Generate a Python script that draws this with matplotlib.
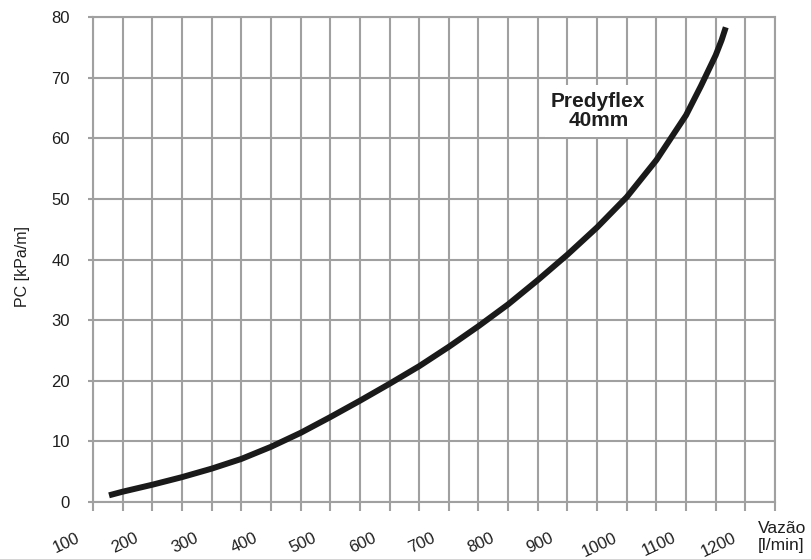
import matplotlib
matplotlib.use("Agg")
import matplotlib.pyplot as plt
from matplotlib.transforms import ScaledTranslation

plt.rcParams['font.family'] = ['Liberation Sans', 'DejaVu Sans']

# data
flow = [127, 150, 200, 250, 300, 350, 400, 450, 500, 550, 600, 650, 700,
        750, 800, 850, 900, 950, 1000, 1050, 1100, 1125, 1150, 1160, 1167]
pc = [1.1, 1.7, 2.85, 4.1, 5.5, 7.1, 9.1, 11.4, 14.0, 16.7, 19.5, 22.4, 25.6,
      29.0, 32.6, 36.6, 40.8, 45.3, 50.3, 56.4, 63.8, 68.6, 73.7, 76.2, 78.3]
x_ticks = list(range(100, 1251, 50))
x_labels = [str(v) if (v % 100 == 0 and v <= 1200) else '' for v in x_ticks]
y_ticks = list(range(0, 81, 10))
series_label = "Predyflex\n40mm"
label_pos = (952, 64.5)

grid_c = '#a0a0a0'
text_c = '#1e1e1e'

fig = plt.figure(figsize=(8.11, 5.59), dpi=100)
ax = fig.add_axes([93/811, 1 - 502/559, (775-93)/811, (502-17)/559])

ax.plot(flow, pc, color='#1a1a1a', lw=4.3, solid_capstyle='butt',
        solid_joinstyle='round', zorder=5)

ax.set_xlim(100, 1250)
ax.set_ylim(0, 80)
ax.set_xticks(x_ticks)
ax.set_xticklabels(x_labels)
ax.set_yticks(y_ticks)

ax.grid(True, color=grid_c, lw=1.5, zorder=0)
ax.set_axisbelow(True)
for s in ax.spines.values():
    s.set_color(grid_c)
    s.set_linewidth(1.5)

ax.tick_params(axis='x', length=6.5, width=1.5, color=grid_c, pad=14,
               labelsize=12, labelcolor=text_c)
ax.tick_params(axis='y', length=3.6, width=1.5, color=grid_c, pad=13,
               labelsize=12, labelcolor=text_c)

offset = ScaledTranslation(-0.27, 0, fig.dpi_scale_trans)
for lab in ax.get_xticklabels():
    lab.set_rotation(25)
    lab.set_ha('center')
    lab.set_va('top')
    lab.set_transform(lab.get_transform() + offset)

ax.set_ylabel("PC [kPa/m]", fontsize=11.5, color=text_c)
ax.yaxis.set_label_coords(-0.093, 0.485)

fig.text(758/811, 1 - 537/559, "Vazão\n[l/min]", ha='left', va='center',
         fontsize=12.5, color=text_c, linespacing=1.2)

ax.text(label_pos[0], label_pos[1], series_label, ha='center', va='center',
        fontsize=15, fontweight='bold', color=text_c, linespacing=1.05,
        bbox=dict(boxstyle='square,pad=0.3', fc='white', ec='none'), zorder=4)

fig.savefig("out.png", dpi=100)
